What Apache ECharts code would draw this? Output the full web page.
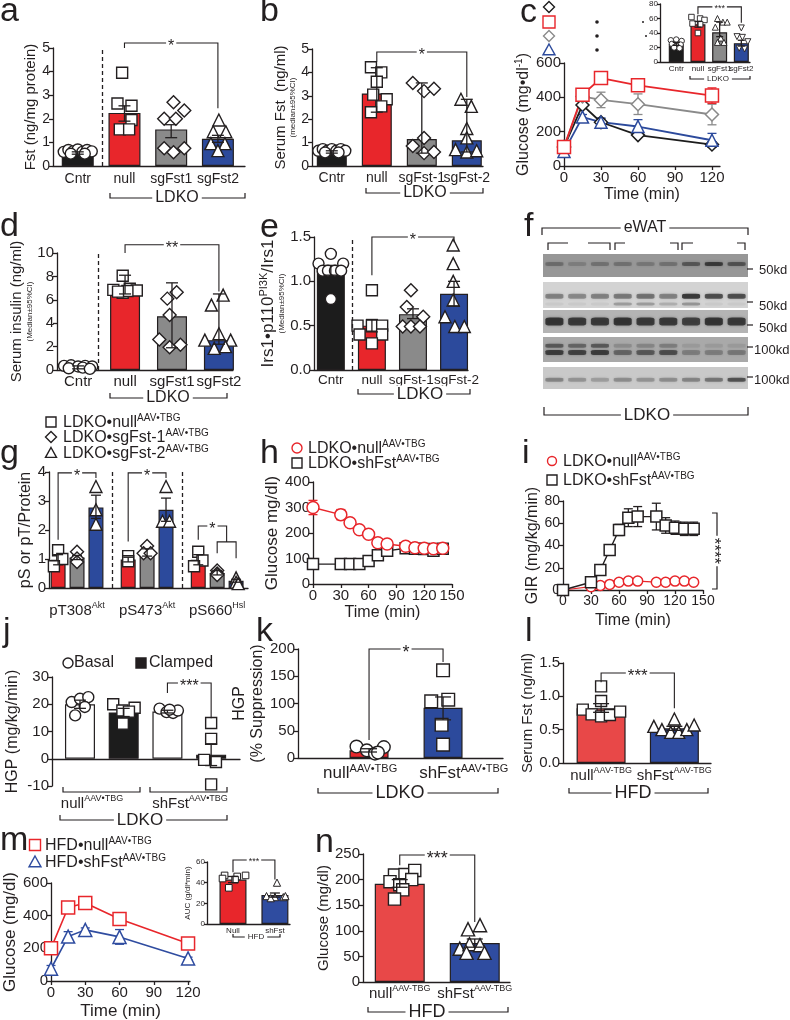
<!DOCTYPE html>
<html>
<head>
<meta charset="utf-8">
<title>Figure</title>
<script src="https://cdn.jsdelivr.net/npm/echarts@6.0.0/dist/echarts.min.js"></script>
<style>
html,body{margin:0;padding:0;background:#ffffff;}
#chart{width:790px;height:1020px;}
</style>
</head>
<body>
<div id="chart"></div>
<script>
// ================= DATA =================
// panel a
const aCats = ['Cntr', 'null', 'sgFst1', 'sgFst2'];
const aMean = [0.55, 2.25, 1.55, 1.15];
const aLo = [0.5, 1.9, 1.2, 1.0];
const aHi = [0.6, 2.55, 1.75, 1.3];
const aPts = [
  [[-0.3,0.6],[-0.2,0.68],[-0.1,0.62],[0,0.7],[0.1,0.6],[0.2,0.68],[0.3,0.62],[-0.15,0.52],[0.15,0.52]],
  [[-0.05,3.95],[-0.15,2.65],[0.15,2.55],[0.15,1.95],[-0.1,1.55],[0.1,1.55]],
  [[0.05,2.7],[0.28,2.35],[-0.15,2.0],[0.1,2.0],[-0.15,0.75],[0.05,0.58],[0.28,0.75]],
  [[0.02,1.95],[-0.1,1.45],[0.17,1.45],[-0.15,0.95],[0.15,0.95],[0,0.65]]
];
const aSig = [[1, 3, 5.21, 5.0, 2.45]];
const aSigText = ['*'];

// panel b
const bCats = ['Cntr', 'null', 'sgFst-1', 'sgFst-2'];
const bMed = [0.6, 3.1, 1.15, 1.1];
const bLo = [0.55, 2.3, 0.55, 0.6];
const bHi = [0.65, 4.2, 3.55, 2.85];
const bPts = [
  [[-0.3,0.65],[-0.2,0.72],[-0.1,0.65],[0,0.72],[0.1,0.65],[0.2,0.72],[0.3,0.65],[-0.15,0.58],[0.15,0.58]],
  [[-0.13,4.22],[0.1,4.0],[0,3.6],[-0.08,3.05],[0.22,2.85],[0.1,2.55],[-0.13,2.3]],
  [[-0.2,3.55],[0.05,3.2],[0.27,3.3],[0.05,1.2],[-0.2,0.85],[0.05,0.55],[0.27,0.6]],
  [[-0.13,2.85],[0.1,2.55],[0,1.6],[0,1.2],[-0.25,0.7],[0,0.6],[0.22,0.65]]
];
const bSig = [[1, 3, 4.87, 4.45, 2.95]];
const bSigText = ['*'];

// panel c (main)
const cTime = [0, 15, 30, 60, 120];
const cCntr = [110, 355, 255, 180, 125];
const cCntrErr = [8, 15, 20, 10, 15];
const cNull = [110, 415, 512, 470, 410];
const cNullErr = [10, 20, 12, 35, 45];
const cSg1 = [110, 405, 385, 360, 300];
const cSg1Err = [10, 20, 45, 60, 60];
const cSg2 = [85, 285, 255, 230, 150];
const cSg2Err = [10, 15, 25, 40, 40];
// panel c (inset)
const cInCats = ['Cntr', 'null', 'sgFst1', 'sgFst2'];
const cInMean = [25, 52, 41, 26];
const cInLo = [23, 48, 35, 22];
const cInHi = [27, 56, 55, 30];
const cInPts = [
  [[-0.25,30],[0,31],[0.25,29],[-0.2,25],[0.2,24],[0,22],[-0.1,20],[0.15,19]],
  [[-0.3,62],[0.1,60],[0.3,58],[-0.25,53],[0.1,52],[0,40]],
  [[-0.1,60],[0.15,55],[0.35,55],[-0.2,48],[0.05,33],[-0.1,27],[0.2,27]],
  [[0,47],[-0.2,35],[0.05,34],[0.3,28],[-0.1,19],[0.15,18]]
];
const cInSig = [[1, 3, 76, 66, 54]];
const cInSigText = ['***'];

// panel d
const dCats = ['Cntr', 'null', 'sgFst1', 'sgFst2'];
const dMed = [0.2, 6.9, 4.6, 2.55];
const dLo = [0.1, 6.5, 1.9, 2.2];
const dHi = [0.35, 8.1, 7.45, 6.5];
const dPts = [
  [[-0.3,0.35],[-0.15,0.4],[0,0.3],[0.15,0.35],[0.3,0.3],[-0.2,0.15],[0.1,0.2],[0.25,0.1]],
  [[-0.05,8.05],[-0.25,6.85],[-0.05,6.6],[0.1,6.95],[0.25,6.8],[0.05,6.75],[-0.15,6.7]],
  [[-0.1,6.1],[0.1,6.65],[-0.05,4.7],[-0.27,2.6],[-0.05,1.95],[0.18,2.15]],
  [[0.09,6.4],[-0.16,5.55],[0,3.1],[-0.3,2.55],[0.25,2.55],[-0.1,1.85],[0.14,2.0]]
];
const dSig = [[1, 3, 10.7, 10.0, 6.7]];
const dSigText = ['**'];

// panel e
const eCats = ['Cntr', 'null', 'sgFst-1', 'sgFst-2'];
const eMed = [1.12, 0.5, 0.63, 0.86];
const eLo = [1.07, 0.43, 0.58, 0.72];
const eHi = [1.18, 0.57, 0.69, 1.0];
const ePts = [
  [[-0.3,1.2],[0,1.31],[0.3,1.2],[-0.2,1.12],[-0.07,1.12],[0.1,1.12],[0.25,1.12],[0,0.8]],
  [[0,0.9],[-0.35,0.5],[0,0.5],[0.25,0.5],[-0.3,0.4],[0.25,0.4],[0,0.3]],
  [[-0.05,0.9],[-0.15,0.71],[0.25,0.6],[-0.25,0.49],[-0.05,0.49],[0.17,0.49]],
  [[-0.02,1.41],[-0.02,1.2],[-0.02,1.0],[-0.02,0.79],[-0.22,0.6],[0.02,0.49],[0.25,0.49]]
];
const eSig = [[1, 3, 1.5, 1.07, 1.44]];
const eSigText = ['*'];

// panel f (western blot band darkness, 9 lanes)
const fLanes = ['1','2','3','4','5','6','7','8','9'];
const fBand1 = [0.35, 0.2, 0.3, 0.3, 0.25, 0.3, 0.55, 0.85, 0.6];
const fBand2 = [0.45, 0.4, 0.45, 0.5, 0.55, 0.45, 0.95, 0.8, 0.8];
const fBand2b = [0.05, 0.05, 0.05, 0.3, 0.3, 0.2, 0.35, 0.05, 0.05];
const fBand3 = [0.95, 0.9, 0.9, 0.95, 0.9, 0.9, 0.85, 0.95, 0.9];
const fBand4 = [0.85, 0.8, 0.85, 0.5, 0.6, 0.7, 0.3, 0.3, 0.35];
const fBand4b = [0.6, 0.5, 0.6, 0.2, 0.25, 0.3, 0.1, 0.1, 0.1];
const fBand5 = [0.4, 0.3, 0.25, 0.35, 0.3, 0.35, 0.4, 0.5, 0.75];
const fMarkers = ['50kd', '50kd', '50kd', '100kd', '100kd'];

// panel g
const gGroups = ['pT308', 'pS473', 'pS660'];
const gGroupSup = ['Akt', 'Akt', 'Hsl'];
const gNull = [0.97, 0.98, 0.97];
const gNullLo = [0.8, 0.9, 0.8];
const gNullHi = [1.15, 1.06, 1.15];
const gSg1 = [1.05, 1.2, 0.52];
const gSg1Lo = [0.98, 1.1, 0.45];
const gSg1Hi = [1.12, 1.35, 0.6];
const gSg2 = [2.78, 2.7, 0.25];
const gSg2Lo = [2.4, 2.3, 0.2];
const gSg2Hi = [3.2, 3.1, 0.3];
const gNullPts = [[[0,1.3],[0.06,1.0],[-0.06,0.75]], [[0,1.1],[0,0.92]], [[0,1.25],[0.06,0.95],[-0.06,0.75]]];
const gSg1Pts = [[[0,1.25],[0,1.02],[0,0.9]], [[0,1.45],[-0.05,1.2],[0.05,1.2]], [[0,0.6],[0,0.5],[0,0.45]]];
const gSg2Pts = [[[0,3.5],[0,2.7],[0,2.2]], [[0,3.5],[-0.05,2.3],[0.05,2.3]], [[0,0.35],[0,0.2],[0.03,0.15]]];
const gSig = [[-0.27, 0.27, 3.97, 1.66, 3.79], [0.73, 1.27, 3.97, 1.6, 3.79], [1.73, 2.135, 2.14, 1.66, 1.59], [2.0, 2.27, 1.59, 1.2, 1.03]];
const gSigText = ['*', '*', '*', ''];

// panel h
const hTime = [0, 30, 40, 50, 60, 70, 80, 100, 110, 120, 130, 140];
const hNull = [300, 272, 240, 213, 195, 162, 157, 148, 142, 140, 138, 140];
const hNullErr = [28, 20, 15, 15, 0, 0, 0, 0, 0, 0, 0, 0];
const hSh = [78, 78, 78, 78, 90, 113, 130, 140, 138, 137, 130, 138];

// panel i
const iTime = [0, 30, 40, 50, 60, 70, 80, 100, 110, 120, 130, 140];
const iSh = [0, 7, 18, 36, 54, 65, 66, 66, 58, 56, 55, 55];
const iShErr = [0, 1, 1, 2, 5, 8, 9, 12, 7, 6, 6, 6];
const iNull = [0, 3, 4, 5, 7, 8, 8, 7, 7, 8, 8, 7];
const iNullErr = [0, 0, 0, 0, 0, 0, 0, 0, 0, 2, 2, 0];

// panel j
const jMean = [20, 17, 17.3, 1.5];
const jLo = [18.5, 15.5, 16.8, -2.5];
const jHi = [21.5, 18.5, 17.8, 5.5];
const jPts = [
  [[-0.19,20.8],[0,22],[0.19,22.6],[-0.11,15.9],[0.11,19]],
  [[-0.24,20],[-0.03,17.7],[0.25,18.7],[-0.02,12.9],[0.12,17.3]],
  [[-0.18,18.4],[-0.02,17.1],[0.13,16.8],[0.24,17.7],[0.05,18]],
  [[0,13.1],[0,7.3],[-0.16,-0.4],[0.11,-1.2],[0,-9.4]]
];
const jSig = [[2, 3, 27.8, 24.1, 14.9]];
const jSigText = ['***'];

// panel k
const kCats = ['null', 'shFst'];
const kMean = [14, 92];
const kLo = [11, 70];
const kHi = [17, 112];
const kPts = [
  [[-0.17,21],[-0.03,14],[0.08,8],[0.2,20],[0.12,10]],
  [[0,161],[-0.16,104],[0.07,107],[-0.02,61],[0,24.5]]
];
const kSig = [[0, 1, 200, 33, 176]];
const kSigText = ['*'];

// panel l
const lCats = ['null', 'shFst'];
const lMean = [0.82, 0.52];
const lLo = [0.76, 0.49];
const lHi = [0.89, 0.55];
const lPts = [
  [[0,1.15],[0,0.93],[-0.25,0.8],[-0.13,0.73],[0,0.7],[0.12,0.72],[0.26,0.77]],
  [[-0.28,0.55],[-0.17,0.5],[-0.05,0.46],[0,0.66],[0.06,0.46],[0.17,0.5],[0.27,0.57]]
];
const lSig = [[0, 1, 1.35, 1.21, 0.82]];
const lSigText = ['***'];

// panel m
const mTime = [0, 15, 30, 60, 120];
const mNull = [200, 450, 478, 380, 230];
const mNullErr = [0, 12, 10, 12, 8];
const mSh = [75, 272, 313, 270, 138];
const mShErr = [20, 30, 12, 45, 8];
const mAucCats = ['Null', 'shFst'];
const mAucMean = [43, 28];
const mAucLo = [40, 26];
const mAucHi = [46, 30];
const mAucPts = [
  [[-0.2,47],[0.1,46],[0.3,47],[-0.25,44],[0.05,43],[-0.1,35]],
  [[0.05,40],[-0.2,27],[0,26],[0.2,26],[-0.1,25],[0.25,27]]
];
const mAucSig = [[0, 1, 62, 50, 43]];
const mAucSigText = ['***'];

// panel n
const nCats = ['null', 'shFst'];
const nMean = [192, 76];
const nLo = [185, 68];
const nHi = [200, 84];
const nPts = [
  [[-0.07,209],[0.07,210],[0.2,218],[-0.13,196],[0,190],[0.16,200],[0.04,180],[-0.07,162]],
  [[-0.09,103],[0.07,111],[-0.2,65],[-0.07,74],[0.07,72],[-0.11,57],[0.13,57]]
];
const nSig = [[0, 1, 248, 228, 117]];
const nSigText = ['***'];

// ================= STYLE / HELPERS =================
const FONT = '"Liberation Sans", Arial, Helvetica, sans-serif';
const INK = '#231f20';
const RED = '#e8262b', GRAY = '#8a8a8a', BLUE = '#2c4a9c', BLACK = '#1c1c1c';
const RED2 = '#e84848', BLUE2 = '#2f4ca0';
const LW = 1.3;

const option = {
  animation: false, backgroundColor: '#ffffff',
  textStyle: { fontFamily: FONT },
  grid: [], xAxis: [], yAxis: [], series: [],
  graphic: { elements: [] }
};
const G = option.graphic.elements;

function R(fs) {
  const s = Math.round(fs * 0.62);
  return {
    m: { fontSize: fs, lineHeight: fs + 2, verticalAlign: 'bottom', fontFamily: FONT, color: INK, fill: INK },
    u: { fontSize: s, lineHeight: s + 1, verticalAlign: 'top', fontFamily: FONT, color: INK, fill: INK },
    t: { fontSize: 8, lineHeight: 10, fontFamily: FONT, color: INK, fill: INK }
  };
}
const sup = (a, b) => `{m|${a}}{u|${b}}`;

function addGrid(rect) {
  const gi = option.grid.length;
  option.grid.push({ left: rect[0], top: rect[1], width: rect[2], height: rect[3], containLabel: false, outerBoundsMode: 'none', show: false });
  return gi;
}

function yAxisCfg(gi, p) {
  const fs = p.yfs || 14;
  return {
    gridIndex: gi, type: 'value', min: p.ymin, max: p.ymax, interval: p.yint,
    axisLine: { show: true, onZero: false, lineStyle: { color: INK, width: LW } },
    axisTick: { show: true, length: p.tick || 4, lineStyle: { color: INK, width: LW } },
    axisLabel: { show: true, fontSize: fs, color: INK, fontFamily: FONT, margin: p.ylm || 3, hideOverlap: false, formatter: p.yFmt || (v => String(v)) },
    splitLine: { show: false },
    name: p.yName || '', nameLocation: 'middle', nameGap: p.yNameGap || 20, nameRotate: 90,
    nameTextStyle: { fontSize: p.yNameFs || 15, color: INK, fontFamily: FONT, rich: p.yNameRich || {} }
  };
}

function errSeries(gi, xs, lo, hi, color, cap, z) {
  const data = [];
  xs.forEach((x, i) => { if (hi[i] !== lo[i]) data.push([x, lo[i], hi[i]]); });
  option.series.push({
    type: 'custom', xAxisIndex: gi, yAxisIndex: gi, z: z || 5, silent: true, data,
    renderItem: (params, api) => {
      const x = api.value(0);
      const p1 = api.coord([x, api.value(1)]), p2 = api.coord([x, api.value(2)]);
      const st = { stroke: color, lineWidth: LW };
      return { type: 'group', children: [
        { type: 'line', shape: { x1: p1[0], y1: p1[1], x2: p2[0], y2: p2[1] }, style: st },
        { type: 'line', shape: { x1: p1[0] - cap / 2, y1: p1[1], x2: p1[0] + cap / 2, y2: p1[1] }, style: st },
        { type: 'line', shape: { x1: p2[0] - cap / 2, y1: p2[1], x2: p2[0] + cap / 2, y2: p2[1] }, style: st }
      ] };
    }
  });
}

function sigSeries(gi, list, texts, fs) {
  option.series.push({
    type: 'custom', xAxisIndex: gi, yAxisIndex: gi, z: 6, silent: true, clip: false, data: list,
    renderItem: (params, api) => {
      const x1 = api.value(0), x2 = api.value(1), y = api.value(2), yl = api.value(3), yr = api.value(4);
      const a = api.coord([x1, yl]), b = api.coord([x1, y]), c = api.coord([x2, y]), d = api.coord([x2, yr]);
      const ch = [{ type: 'polyline', shape: { points: [a, b, c, d] }, style: { stroke: INK, lineWidth: 1.1, fill: null } }];
      const t = texts[params.dataIndex];
      if (t) ch.push({ type: 'text', x: (b[0] + c[0]) / 2, y: b[1] + fs * 0.22, style: {
        text: t, align: 'center', verticalAlign: 'middle', fontSize: fs, fontFamily: FONT, fill: INK,
        backgroundColor: '#fff', padding: [0, 2] } });
      return { type: 'group', children: ch };
    }
  });
}

// category labels under an axis, placed through the axis scale
function catLabelSeries(gi, xs, texts, fs, margin, ybase) {
  option.series.push({
    type: 'custom', xAxisIndex: gi, yAxisIndex: gi, z: 6, silent: true, clip: false,
    data: xs.map((x, i) => [x, i]),
    renderItem: (params, api) => {
      const p = api.coord([api.value(0), ybase]);
      return { type: 'text', x: p[0], y: p[1] + margin, style: {
        text: texts[params.dataIndex], align: 'center', verticalAlign: 'top', fontSize: fs, fontFamily: FONT, fill: INK, rich: R(fs) } };
    }
  });
}

const SYM_SIZE = { circle: 11, rect: 11, diamond: 13, triangle: 12 };

function addBarPanel(p) {
  const gi = addGrid(p.rect);
  option.xAxis.push({
    gridIndex: gi, type: 'value', min: p.xmin, max: p.xmax,
    axisLine: { show: true, onZero: !!p.onZero, lineStyle: { color: INK, width: LW } },
    axisTick: { show: false }, splitLine: { show: false }, axisLabel: { show: false }
  });
  option.yAxis.push(yAxisCfg(gi, p));
  const barSeries = {
    type: 'bar', xAxisIndex: gi, yAxisIndex: gi, barWidth: p.barWidth, z: 2, silent: true,
    data: p.barX.map((x, i) => ({ value: [x, p.means[i]], itemStyle: { color: p.colors[i], borderColor: INK, borderWidth: 1.2 } }))
  };
  if (p.dashed) barSeries.markLine = {
    silent: true, symbol: ['none', 'none'], label: { show: false },
    lineStyle: { color: INK, type: [4, 3], width: 1.3 },
    data: p.dashed.map(x => ({ xAxis: x }))
  };
  option.series.push(barSeries);
  const scale = p.symScale || 1;
  const data = [];
  p.pts.forEach((arr, i) => arr.forEach(([dx, y]) => {
    const s = p.syms[i];
    const item = { value: [p.barX[i] + dx, y], symbol: s, symbolSize: SYM_SIZE[s] * scale };
    if (p.symRot && p.symRot[i]) item.symbolRotate = p.symRot[i];
    data.push(item);
  }));
  option.series.push({
    type: 'scatter', xAxisIndex: gi, yAxisIndex: gi, z: 4, silent: true,
    itemStyle: { color: '#fff', borderColor: INK, borderWidth: p.symLW || 1.4, opacity: 1 }, data
  });
  errSeries(gi, p.barX, p.lo, p.hi, INK, p.cap || 12, 5);
  if (p.sig) sigSeries(gi, p.sig, p.sigText, p.sigFs || 16);
  if (p.cats) catLabelSeries(gi, p.labelAt, p.cats, p.xfs || 14, p.xm || 5, p.onZero ? 0 : p.ymin);
  return gi;
}

function addLinePanel(p) {
  const gi = addGrid(p.rect);
  const fs = p.xfs || 15;
  option.xAxis.push({
    gridIndex: gi, type: 'value', min: p.xmin, max: p.xmax,
    axisLine: { show: true, onZero: false, lineStyle: { color: INK, width: LW } },
    axisTick: { show: true, customValues: p.xticks, length: 4, lineStyle: { color: INK, width: LW } },
    axisLabel: { show: true, customValues: p.xticks, fontSize: fs, color: INK, fontFamily: FONT, margin: 4, hideOverlap: false },
    splitLine: { show: false },
    name: p.xName, nameLocation: 'middle', nameGap: p.xNameGap, nameTextStyle: { fontSize: p.xNameFs || 16, color: INK, fontFamily: FONT }
  });
  option.yAxis.push(yAxisCfg(gi, p));
  p.series.forEach(s => {
    option.series.push({
      type: 'line', xAxisIndex: gi, yAxisIndex: gi, z: 3, silent: true, showSymbol: true, showAllSymbol: true,
      symbol: s.symbol, symbolSize: s.size, symbolRotate: s.rot || 0,
      lineStyle: { color: s.color, width: s.lw || 1.8 },
      itemStyle: { color: '#fff', borderColor: s.color, borderWidth: 1.5 },
      data: s.x.map((x, i) => [x, s.y[i]])
    });
    if (s.err) errSeries(gi, s.x, s.y.map((v, i) => v - s.err[i]), s.y.map((v, i) => v + s.err[i]), s.color, s.cap || 9, 2);
  });
  return gi;
}

// graphic helpers
function gText(x, y, text, fs, st) {
  G.push({ type: 'text', z: 100, silent: true,
    style: Object.assign({ text, x, y, fontSize: fs, fontFamily: FONT, fill: INK, align: 'left', verticalAlign: 'middle' }, st || {}) });
}
function gLine(points, w) {
  G.push({ type: 'polyline', z: 99, silent: true, shape: { points }, style: { stroke: INK, lineWidth: w || 1.2, fill: null } });
}
function bracket(x1, x2, y, up, label, fs, lx) {
  gLine([[x1, y - up], [x1, y], [x2, y], [x2, y - up]]);
  if (label) gText(lx != null ? lx : (x1 + x2) / 2, y, label, fs, { align: 'center', backgroundColor: '#fff', padding: [0, 3] });
}
function gSym(kind, cx, cy, size, stroke, fill) {
  const st = { stroke, fill: fill || '#fff', lineWidth: 1.4 };
  const h = size / 2;
  let el;
  if (kind === 'circle') el = { type: 'circle', shape: { cx, cy, r: h }, style: st };
  else if (kind === 'rect') el = { type: 'rect', shape: { x: cx - h, y: cy - h, width: size, height: size }, style: st };
  else if (kind === 'diamond') el = { type: 'polygon', shape: { points: [[cx, cy - h], [cx + h, cy], [cx, cy + h], [cx - h, cy]] }, style: st };
  else el = { type: 'polygon', shape: { points: [[cx, cy - h], [cx + h, cy + h * 0.8], [cx - h, cy + h * 0.8]] }, style: st };
  el.z = 100; el.silent = true;
  G.push(el);
}
function letter(x, y, ch) { gText(x, y, ch, 34, {}); }

// ================= PANELS =================
const SYM4 = ['circle', 'rect', 'diamond', 'triangle'];
const COL4 = [BLACK, RED, GRAY, BLUE];

// ---- a ----
addBarPanel({
  rect: [53, 48, 192, 118], xmin: -0.53, xmax: 3.58, ymin: 0, ymax: 5, yint: 1,
  cats: aCats, labelAt: [0, 1, 2, 3], xfs: 14, xm: 6,
  yName: 'Fst (ng/mg protein)', yNameGap: 11, yNameFs: 15,
  barX: [0, 1, 2, 3], means: aMean, colors: COL4, barWidth: 32, lo: aLo, hi: aHi,
  pts: aPts, syms: SYM4, dashed: [0.52], sig: aSig, sigText: aSigText
});
bracket(110, 245, 198, 5, 'LDKO', 16, 177);
letter(0, 12, 'a');

// ---- b ----
addBarPanel({
  rect: [312, 49, 171, 117], xmin: -0.44, xmax: 3.36, ymin: 0, ymax: 5, yint: 1,
  cats: bCats, labelAt: [0, 1, 2, 3], xfs: 14, xm: 5,
  yName: '{m|Serum Fst  (ng/ml)}\n{t|(median±95%CI)}', yNameGap: 14, yNameRich: R(15),
  barX: [0, 1, 2, 3], means: bMed, colors: COL4, barWidth: 30, lo: bLo, hi: bHi,
  pts: bPts, syms: SYM4, sig: bSig, sigText: bSigText
});
bracket(366, 483, 193, 5, 'LDKO', 16, 425);
letter(260, 12, 'b');

// ---- c main ----
addLinePanel({
  rect: [564, 63, 156, 103], xmin: 0, xmax: 126.5, xticks: [0, 30, 60, 90, 120],
  ymin: 0, ymax: 600, yint: 200, yfs: 15, xfs: 15,
  xName: 'Time (min)', xNameGap: 21, xNameFs: 16,
  yName: '{m|Glucose (mg•dl}{u|-1}{m|)}', yNameGap: 30, yNameRich: R(16),
  series: [
    { x: cTime, y: cCntr, err: cCntrErr, color: BLACK, symbol: 'diamond', size: 13 },
    { x: cTime, y: cSg1, err: cSg1Err, color: GRAY, symbol: 'diamond', size: 13 },
    { x: cTime, y: cSg2, err: cSg2Err, color: BLUE, symbol: 'triangle', size: 12 },
    { x: cTime, y: cNull, err: cNullErr, color: RED, symbol: 'rect', size: 13 }
  ]
});
letter(520, 13, 'c');
gSym('diamond', 549, 7, 11, BLACK);
gSym('rect', 549, 22, 12, RED);
gSym('diamond', 549, 36, 11, GRAY);
gSym('triangle', 549, 50, 12, BLUE);
[[597, 22, 1.8], [597, 36, 1.8], [597, 50, 1.8], [643, 22, 1], [646, 36, 1]].forEach(([x, y, r]) =>
  G.push({ type: 'circle', z: 100, silent: true, shape: { cx: x, cy: y, r }, style: { fill: INK } }));

// ---- c inset ----
addBarPanel({
  rect: [660, 4, 90, 58], xmin: -0.75, xmax: 3.4, ymin: 0, ymax: 80, yint: 20, yfs: 8, tick: 3, ylm: 2,
  cats: cInCats, labelAt: [0, 1, 2, 3], xfs: 8, xm: 3,
  barX: [0, 1, 2, 3], means: cInMean, colors: COL4, barWidth: 15, lo: cInLo, hi: cInHi, cap: 7,
  pts: cInPts, syms: ['circle', 'rect', 'triangle', 'triangle'], symRot: [0, 0, 0, 180], symScale: 0.5, symLW: 0.9,
  sig: cInSig, sigText: cInSigText, sigFs: 9
});
bracket(690, 750, 79, 3, 'LDKO', 8, 718);

// ---- d ----
addBarPanel({
  rect: [57, 253, 176, 117], xmin: -0.45, xmax: 3.3, ymin: 0, ymax: 10, yint: 2, yfs: 15,
  cats: dCats, labelAt: [0, 1, 2, 3], xfs: 15, xm: 4,
  yName: '{m|Serum insulin (ng/ml)}\n{t|(Median±95%CI)}', yNameGap: 14, yNameRich: R(15),
  barX: [0, 1, 2, 3], means: dMed, colors: COL4, barWidth: 30, lo: dLo, hi: dHi,
  pts: dPts, syms: SYM4, dashed: [0.43], sig: dSig, sigText: dSigText
});
bracket(110, 227, 398, 5, 'LDKO', 16, 168);
letter(0, 227, 'd');

// ---- e ----
addBarPanel({
  rect: [314, 237, 154, 133], xmin: -0.41, xmax: 3.34, ymin: 0, ymax: 1.5, yint: 0.5, yfs: 15,
  yFmt: v => v.toFixed(1),
  cats: eCats, labelAt: [0, 1, 1.96, 3.06], xfs: 13.5, xm: 3,
  yName: '{m|Irs1•p110}{u|PI3K}{m|/Irs1}\n{t|(Median±95%CI)}', yNameGap: 18, yNameRich: R(17),
  barX: [0, 1, 2, 3], means: eMed, colors: COL4, barWidth: 28, lo: eLo, hi: eHi,
  pts: ePts, syms: SYM4, dashed: [0.51], sig: eSig, sigText: eSigText
});
bracket(358, 470, 394, 5, 'LDKO', 17, 420);
letter(260, 228, 'e');

// ---- f (blot) ----
const fStrips = [
  { top: 254, h: 23, bg: '#979797', bands: [[fBand1, 0.57, 4]] },
  { top: 282, h: 26, bg: '#d3d3d3', bands: [[fBand2, 0.45, 5], [fBand2b, 0.15, 3]] },
  { top: 310, h: 23, bg: '#b4b4b4', bands: [[fBand3, 0.5, 8]] },
  { top: 337, h: 25, bg: '#a9a9a9', bands: [[fBand4, 0.38, 5], [fBand4b, 0.65, 4]] },
  { top: 367, h: 22, bg: '#c9c9c9', bands: [[fBand5, 0.42, 4]] }
];
const fLabelY = [270, 306, 328, 350, 380];
const fDashY = [269, 302, 325, 347, 377];
fStrips.forEach((s, k) => {
  const gi = option.grid.length;
  option.grid.push({ left: 543, top: s.top, width: 205, height: s.h, show: true, backgroundColor: s.bg, borderWidth: 0, outerBoundsMode: 'none' });
  option.xAxis.push({ gridIndex: gi, type: 'category', data: fLanes, show: false });
  option.yAxis.push({ gridIndex: gi, type: 'value', min: 0, max: 1, show: false });
  s.bands.forEach(([vals, yb, bh]) => {
    option.series.push({
      type: 'scatter', xAxisIndex: gi, yAxisIndex: gi, silent: true, symbol: 'roundRect', symbolSize: [18, bh],
      itemStyle: { shadowBlur: 3, shadowColor: 'rgba(0,0,0,0.4)' },
      data: vals.map((a, i) => ({ value: [i, yb], itemStyle: { color: `rgba(25,25,25,${a})` } }))
    });
  });
  gLine([[747, fDashY[k]], [753, fDashY[k]]], 1.2);
  gText(fMarkers[k] === '100kd' ? 754 : 759, fLabelY[k], fMarkers[k], 13, {});
});
letter(524, 227, 'f');
bracket(542, 748, 228, -7, 'eWAT', 16, 645);
[[[548, 250], [548, 243], [568, 243]], [[588, 243], [610, 243], [610, 250]],
 [[615, 250], [615, 243], [625, 243]], [[670, 243], [678, 243], [678, 250]],
 [[682, 250], [682, 243], [693, 243]], [[737, 243], [745, 243], [745, 250]]].forEach(pts => gLine(pts, 1.2));
bracket(544, 748, 415, 8, 'LDKO', 17, 647);

// ---- g ----
(function () {
  const off = [-0.27, 0, 0.27];
  const barX = [], means = [], colors = [], lo = [], hi = [], pts = [], syms = [];
  const sets = [[gNull, gNullLo, gNullHi, gNullPts, RED, 'rect'], [gSg1, gSg1Lo, gSg1Hi, gSg1Pts, GRAY, 'diamond'], [gSg2, gSg2Lo, gSg2Hi, gSg2Pts, BLUE, 'triangle']];
  gGroups.forEach((g, gi) => sets.forEach((s, si) => {
    barX.push(gi + off[si]); means.push(s[0][gi]); lo.push(s[1][gi]); hi.push(s[2][gi]);
    pts.push(s[3][gi]); colors.push(s[4]); syms.push(s[5]);
  }));
  addBarPanel({
    rect: [49, 472, 199, 116], xmin: -0.4, xmax: 2.44, ymin: 0, ymax: 4, yint: 1, yfs: 15,
    cats: gGroups.map((g, i) => sup(g, gGroupSup[i])), labelAt: [0, 1, 2], xfs: 15, xm: 13,
    yName: 'pS or pT/Protein', yNameGap: 10, yNameFs: 16,
    barX, means, colors, barWidth: 15, lo, hi, cap: 10,
    pts, syms, dashed: [0.5, 1.5], sig: gSig, sigText: gSigText
  });
})();
letter(0, 454, 'g');
gSym('rect', 51, 422, 10, INK); gText(63, 422, sup('LDKO•null', 'AAV•TBG'), 16, { rich: R(16) });
gSym('diamond', 51, 437, 11, INK); gText(63, 437, sup('LDKO•sgFst-1', 'AAV•TBG'), 16, { rich: R(16) });
gSym('triangle', 51, 453, 11, INK); gText(63, 453, sup('LDKO•sgFst-2', 'AAV•TBG'), 16, { rich: R(16) });

// ---- h ----
addLinePanel({
  rect: [313, 482, 139, 102], xmin: 0, xmax: 150, xticks: [0, 30, 60, 90, 120, 150],
  ymin: 0, ymax: 400, yint: 100, yfs: 15, xfs: 15,
  xName: 'Time (min)', xNameGap: 21, xNameFs: 16,
  yName: 'Glucose mg/dl)', yNameGap: 32, yNameFs: 17,
  series: [
    { x: hTime, y: hSh, color: INK, symbol: 'rect', size: 11, lw: 1.4 },
    { x: hTime, y: hNull, err: hNullErr, color: RED, symbol: 'circle', size: 12, lw: 1.4 }
  ]
});
letter(260, 454, 'h');
gSym('circle', 297, 448, 10, RED); gText(308, 448, sup('LDKO•null', 'AAV•TBG'), 16, { rich: R(16) });
gSym('rect', 297, 463, 10, INK); gText(308, 463, sup('LDKO•shFst', 'AAV•TBG'), 16, { rich: R(16) });

// ---- i ----
addLinePanel({
  rect: [563, 501, 140, 89], xmin: 0, xmax: 150, xticks: [0, 30, 60, 90, 120, 150],
  ymin: 0, ymax: 80, yint: 20, yfs: 14, xfs: 14,
  xName: 'Time (min)', xNameGap: 23, xNameFs: 16,
  yName: 'GIR (mg/kg/min)', yNameGap: 22, yNameFs: 16,
  series: [
    { x: iTime, y: iNull, err: iNullErr, color: RED, symbol: 'circle', size: 10, lw: 1.2 },
    { x: iTime, y: iSh, err: iShErr, color: INK, symbol: 'rect', size: 11, lw: 1.4 }
  ]
});
letter(522, 454, 'i');
gSym('circle', 552, 461, 9, RED); gText(563, 461, sup('LDKO•null', 'AAV•TBG'), 16, { rich: R(16) });
gSym('rect', 552, 480, 10, INK); gText(563, 480, sup('LDKO•shFst', 'AAV•TBG'), 16, { rich: R(16) });
gLine([[712, 513], [717, 513], [717, 589], [712, 589]], 1.2);
G.push({ type: 'text', z: 100, silent: true, x: 717, y: 551, rotation: -Math.PI / 2,
  style: { text: '****', x: 0, y: 3, fontSize: 17, fontFamily: FONT, fill: INK, align: 'center', verticalAlign: 'middle', backgroundColor: '#fff', padding: [0, 2] } });

// ---- j ----
addBarPanel({
  rect: [52, 677, 188, 109], xmin: -0.64, xmax: 3.66, ymin: -10, ymax: 30, yint: 10, yfs: 15, onZero: true,
  yName: 'HGP (mg/kg/min)', yNameGap: 31, yNameFs: 16,
  barX: [0, 1, 2, 3], means: jMean, colors: ['#ffffff', BLACK, '#ffffff', BLACK], barWidth: 30, lo: jLo, hi: jHi,
  pts: jPts, syms: ['circle', 'rect', 'circle', 'rect'], sig: jSig, sigText: jSigText
});
letter(3, 632, 'j');
gSym('circle', 68, 663, 10, INK); gText(74, 663, 'Basal', 16, {});
gSym('rect', 141, 663, 10, INK, INK); gText(149, 663, 'Clamped', 16, {});
gLine([[63, 787], [63, 792], [140, 792], [140, 787]]);
gLine([[150, 787], [150, 792], [227, 792], [227, 787]]);
gText(92, 803, sup('null', 'AAV•TBG'), 15, { align: 'center', rich: R(15) });
gText(190, 803, sup('shFst', 'AAV•TBG'), 15, { align: 'center', rich: R(15) });
bracket(60, 227, 820, 5, 'LDKO', 17, 140);

// ---- k ----
addBarPanel({
  rect: [298, 649, 205, 109], xmin: -0.96, xmax: 1.81, ymin: 0, ymax: 200, yint: 50, yfs: 15,
  cats: kCats.map(c => sup(c, 'AAV•TBG')), labelAt: [-0.12, 1.28], xfs: 17, xm: 5,
  yName: '{m|HGP}\n{m|(% Suppression)}', yNameGap: 21, yNameRich: R(16),
  barX: [0, 1], means: kMean, colors: [RED, BLUE], barWidth: 39, lo: kLo, hi: kHi, cap: 16,
  pts: kPts, syms: ['circle', 'rect'], symScale: 1.15, sig: kSig, sigText: kSigText, sigFs: 18
});
letter(256, 632, 'k');
bracket(318, 498, 793, 5, 'LDKO', 18, 400);

// ---- l ----
addBarPanel({
  rect: [563, 663, 148, 100], xmin: -0.52, xmax: 1.5, ymin: 0, ymax: 1.5, yint: 0.5, yfs: 15,
  yFmt: v => v.toFixed(1),
  cats: lCats.map(c => sup(c, 'AAV-TBG')), labelAt: [0, 1], xfs: 15, xm: 3,
  yName: 'Serum Fst (ng/ml)', yNameGap: 25, yNameFs: 15,
  barX: [0, 1], means: lMean, colors: [RED2, BLUE2], barWidth: 49, lo: lLo, hi: lHi, cap: 16,
  pts: lPts, syms: ['rect', 'triangle'], sig: lSig, sigText: lSigText, sigFs: 17
});
letter(525, 632, 'l');
bracket(569, 708, 793, 5, 'HFD', 18, 633);

// ---- m ----
addLinePanel({
  rect: [51, 883, 139, 98], xmin: 0, xmax: 121.7, xticks: [0, 30, 60, 90, 120],
  ymin: 0, ymax: 600, yint: 200, yfs: 15, xfs: 15,
  xName: 'Time (min)', xNameGap: 22, xNameFs: 17,
  yName: 'Glucose (mg/dl)', yNameGap: 32, yNameFs: 17,
  series: [
    { x: mTime, y: mSh, err: mShErr, color: BLUE2, symbol: 'triangle', size: 13, lw: 1.6 },
    { x: mTime, y: mNull, err: mNullErr, color: RED, symbol: 'rect', size: 13, lw: 1.6 }
  ]
});
letter(0, 841, 'm');
gSym('rect', 35, 845, 11, RED); gText(45, 845, sup('HFD•null', 'AAV•TBG'), 16, { rich: R(16) });
gSym('triangle', 35, 862, 12, BLUE2); gText(45, 862, sup('HFD•shFst', 'AAV•TBG'), 16, { rich: R(16) });

// ---- m inset ----
addBarPanel({
  rect: [207, 862, 83, 62], xmin: -0.62, xmax: 1.36, ymin: 0, ymax: 60, yint: 20, yfs: 8, tick: 3, ylm: 2,
  cats: mAucCats, labelAt: [0, 1], xfs: 8, xm: 3,
  yName: 'AUC (g/dl*min)', yNameGap: 11, yNameFs: 8,
  barX: [0, 1], means: mAucMean, colors: [RED, BLUE2], barWidth: 27, lo: mAucLo, hi: mAucHi, cap: 10,
  pts: mAucPts, syms: ['rect', 'triangle'], symScale: 0.6, symLW: 1,
  sig: mAucSig, sigText: mAucSigText, sigFs: 9
});
bracket(233, 280, 937, 3, 'HFD', 8, 256);

// ---- n ----
addBarPanel({
  rect: [363, 854, 147, 128], xmin: -0.49, xmax: 1.47, ymin: 0, ymax: 250, yint: 50, yfs: 15,
  cats: nCats.map(c => sup(c, 'AAV-TBG')), labelAt: [0, 1], xfs: 15, xm: 2,
  yName: 'Glucose (mg/dl)', yNameGap: 30, yNameFs: 15,
  barX: [0, 1], means: nMean, colors: [RED2, BLUE2], barWidth: 50, lo: nLo, hi: nHi, cap: 16,
  pts: nPts, syms: ['rect', 'triangle'], symScale: 1.1, sig: nSig, sigText: nSigText, sigFs: 18
});
letter(315, 843, 'n');
bracket(368, 508, 1012, 5, 'HFD', 18, 427);

const chart = echarts.init(document.getElementById('chart'), null, { renderer: 'canvas', width: 790, height: 1020 });
chart.setOption(option);
</script>
</body>
</html>
